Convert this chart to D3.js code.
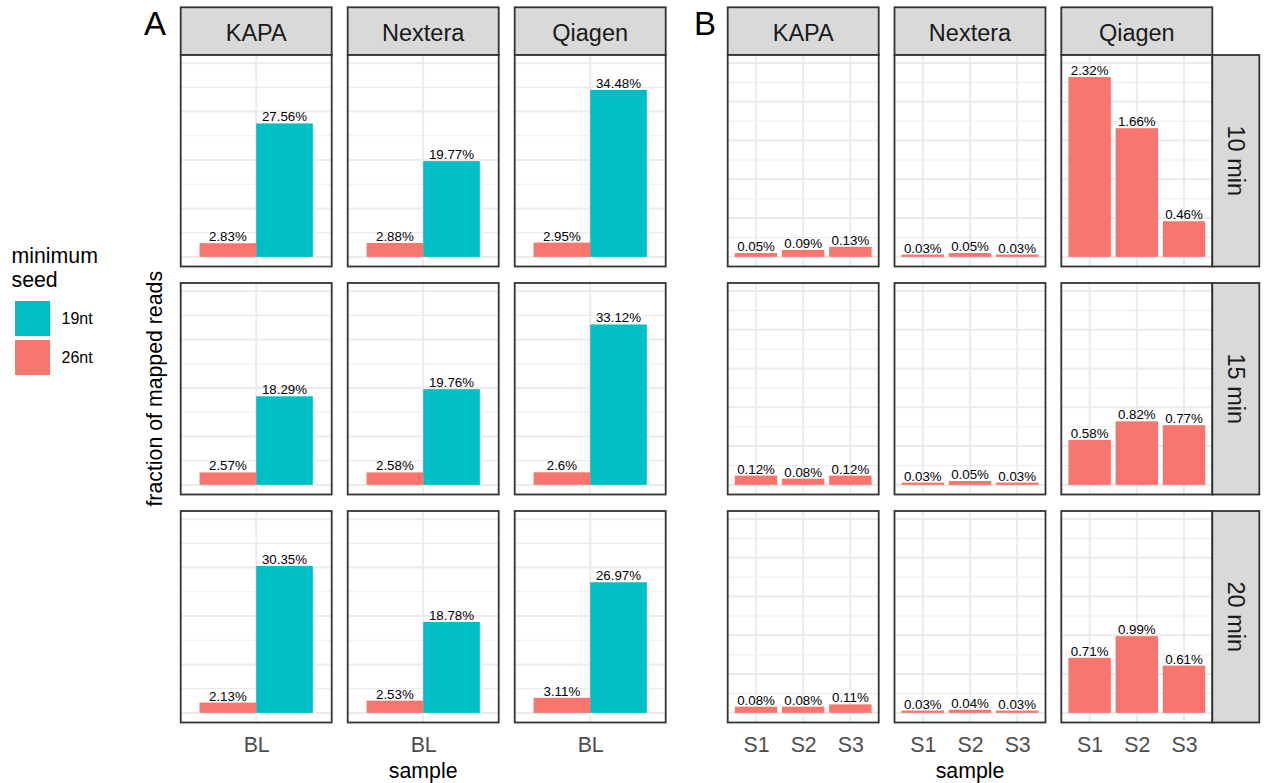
<!DOCTYPE html>
<html>
<head>
<meta charset="utf-8">
<script src="https://cdn.jsdelivr.net/npm/d3@7"></script>
<style>
  body { margin: 0; background: #fff; }
  text { font-family: "Liberation Sans", Arial, sans-serif; }
</style>
</head>
<body>
<svg id="chart" width="1267" height="783"></svg>
<script>
// facet rows / columns
const runTimes = ["10 min", "15 min", "20 min"];
const kits = ["KAPA", "Nextera", "Qiagen"];

// legend (order as shown) and colours
const seedLegend = ["19nt", "26nt"];
const seedColors = ["#00BFC4", "#F8766D"];

// panel A: baseline sample, % of mapped reads, rows = run time, cols = kit
const blSamples = ["BL"];
const seed26BL = [[2.83, 2.88, 2.95], [2.57, 2.58, 2.6], [2.13, 2.53, 3.11]];
const seed19BL = [[27.56, 19.77, 34.48], [18.29, 19.76, 33.12], [30.35, 18.78, 26.97]];

// panel B: spiked samples, 26nt seed only, rows = run time, values per sample
const spikeSamples = ["S1", "S2", "S3"];
const kapaSpike = [[0.05, 0.09, 0.13], [0.12, 0.08, 0.12], [0.08, 0.08, 0.11]];
const nexteraSpike = [[0.03, 0.05, 0.03], [0.03, 0.05, 0.03], [0.03, 0.04, 0.03]];
const qiagenSpike = [[2.32, 1.66, 0.46], [0.58, 0.82, 0.77], [0.71, 0.99, 0.61]];

// upper limits of the y scales (before ggplot's 5% expansion)
const limitA = 39.7;
const limitB = 2.48;

const svg = d3.select("#chart");
const color = d3.scaleOrdinal().domain(seedLegend).range(seedColors);

const rowTop = (i) => 55 + i * 228;
const rowH = 211.5;
const panelW = 151;
const stripTop = 7.3;
const border = "#333333";

function expanded(limit) {
  return d3.scaleLinear().domain([-0.05 * limit, limit * 1.05]).range([rowH, 0]);
}
const yA = expanded(limitA);
const yB = expanded(limitB);

function drawPanel(left, top, samples, bars, y, showAxis) {
  const g = svg.append("g").attr("transform", `translate(${left},${top})`);
  const x = d3.scalePoint().domain(samples).range([0, panelW]).padding(0.6);
  const bw = x.step() * 0.9;

  g.append("rect").attr("width", panelW).attr("height", rowH).attr("fill", "#fff");

  // grid
  const major = y.ticks(5);
  const step = major[1] - major[0];
  const minor = major.map((t) => t + step / 2).filter((t) => t <= y.domain()[1]);
  g.selectAll(".minor").data(minor).join("line")
    .attr("x1", 0).attr("x2", panelW)
    .attr("y1", (d) => y(d)).attr("y2", (d) => y(d))
    .attr("stroke", "#EBEBEB").attr("stroke-width", 1.1);
  g.selectAll(".major").data(major).join("line")
    .attr("x1", 0).attr("x2", panelW)
    .attr("y1", (d) => y(d)).attr("y2", (d) => y(d))
    .attr("stroke", "#EBEBEB").attr("stroke-width", 2);
  g.selectAll(".vgrid").data(samples).join("line")
    .attr("x1", (d) => x(d)).attr("x2", (d) => x(d))
    .attr("y1", 0).attr("y2", rowH)
    .attr("stroke", "#EBEBEB").attr("stroke-width", 2);

  // bars, dodged by seed within a sample
  bars.forEach((grp) => {
    const dodge = d3.scaleBand().domain(grp.items.map((b) => b.seed))
      .range([x(grp.sample) - bw / 2, x(grp.sample) + bw / 2]);
    grp.items.forEach((b) => {
      g.append("rect")
        .attr("x", dodge(b.seed)).attr("width", dodge.bandwidth())
        .attr("y", y(b.value)).attr("height", y(0) - y(b.value))
        .attr("fill", color(b.seed));
      g.append("text")
        .attr("x", dodge(b.seed) + dodge.bandwidth() / 2)
        .attr("y", y(b.value) - 2)
        .attr("text-anchor", "middle")
        .attr("font-size", "13.3px").attr("fill", "#000")
        .text(b.value + "%");
    });
  });

  g.append("rect").attr("width", panelW).attr("height", rowH)
    .attr("fill", "none").attr("stroke", border).attr("stroke-width", 1.8);

  if (showAxis) {
    const ax = g.append("g").attr("transform", `translate(0,${rowH})`)
      .call(d3.axisBottom(x).tickSize(0).tickPadding(14));
    ax.select(".domain").remove();
    ax.selectAll("text").attr("font-size", "21.3px").attr("fill", "#4D4D4D")
      .attr("font-family", "Liberation Sans, Arial, sans-serif");
  }
  return g;
}

function topStrip(left, label) {
  svg.append("rect").attr("x", left).attr("y", stripTop)
    .attr("width", panelW).attr("height", rowTop(0) - stripTop)
    .attr("fill", "#D9D9D9").attr("stroke", border).attr("stroke-width", 1.8);
  svg.append("text").attr("x", left + panelW / 2).attr("y", 40.5)
    .attr("text-anchor", "middle").attr("font-size", "23.5px").attr("fill", "#1A1A1A")
    .text(label);
}

// ---- panel A ----
const leftA = (j) => 180.7 + j * 167;
kits.forEach((kit, j) => {
  topStrip(leftA(j), kit);
  runTimes.forEach((rt, i) => {
    const bars = blSamples.map((s) => ({
      sample: s,
      items: [
        { seed: "26nt", value: seed26BL[i][j] },
        { seed: "19nt", value: seed19BL[i][j] }
      ]
    }));
    drawPanel(leftA(j), rowTop(i), blSamples, bars, yA, i === runTimes.length - 1);
  });
});

// ---- panel B ----
const leftB = (j) => 727.7 + j * 166.8;
const spikeByKit = [kapaSpike, nexteraSpike, qiagenSpike];
kits.forEach((kit, j) => {
  topStrip(leftB(j), kit);
  runTimes.forEach((rt, i) => {
    const bars = spikeSamples.map((s, k) => ({
      sample: s,
      items: [{ seed: "26nt", value: spikeByKit[j][i][k] }]
    }));
    drawPanel(leftB(j), rowTop(i), spikeSamples, bars, yB, i === runTimes.length - 1);
  });
});

// right strips for run time
const stripX = leftB(2) + panelW;
const stripW = 47;
runTimes.forEach((rt, i) => {
  svg.append("rect").attr("x", stripX).attr("y", rowTop(i))
    .attr("width", stripW).attr("height", rowH)
    .attr("fill", "#D9D9D9").attr("stroke", border).attr("stroke-width", 1.8);
  const cx = stripX + stripW / 2, cy = rowTop(i) + rowH / 2;
  svg.append("text")
    .attr("transform", `translate(${cx},${cy}) rotate(90)`)
    .attr("text-anchor", "middle").attr("dy", "0.35em")
    .attr("font-size", "23.5px").attr("fill", "#1A1A1A")
    .text(rt);
});

// axis titles
const bottomY = rowTop(2) + rowH;
svg.append("text").attr("x", (leftA(0) + leftA(2) + panelW) / 2).attr("y", 778)
  .attr("text-anchor", "middle").attr("font-size", "21.3px").text("sample");
svg.append("text").attr("x", (leftB(0) + leftB(2) + panelW) / 2).attr("y", 778)
  .attr("text-anchor", "middle").attr("font-size", "21.3px").text("sample");
svg.append("text")
  .attr("transform", `translate(162,${(rowTop(0) + bottomY) / 2}) rotate(-90)`)
  .attr("text-anchor", "middle").attr("font-size", "21.3px")
  .text("fraction of mapped reads");

// panel tags
svg.append("text").attr("x", 144).attr("y", 35).attr("font-size", "33px").text("A");
svg.append("text").attr("x", 694).attr("y", 35).attr("font-size", "33px").text("B");

// legend
const legend = svg.append("g");
legend.append("text").attr("x", 11.5).attr("y", 263.3).attr("font-size", "21.3px").text("minimum");
legend.append("text").attr("x", 11.5).attr("y", 287.3).attr("font-size", "21.3px").text("seed");
seedLegend.forEach((s, k) => {
  const ky = 301 + k * 39;
  legend.append("rect").attr("x", 15).attr("y", ky).attr("width", 35).attr("height", 35)
    .attr("fill", color(s));
  legend.append("text").attr("x", 61.5).attr("y", ky + 17.5).attr("dy", "0.35em")
    .attr("font-size", "16px").text(s);
});
</script>
</body>
</html>
